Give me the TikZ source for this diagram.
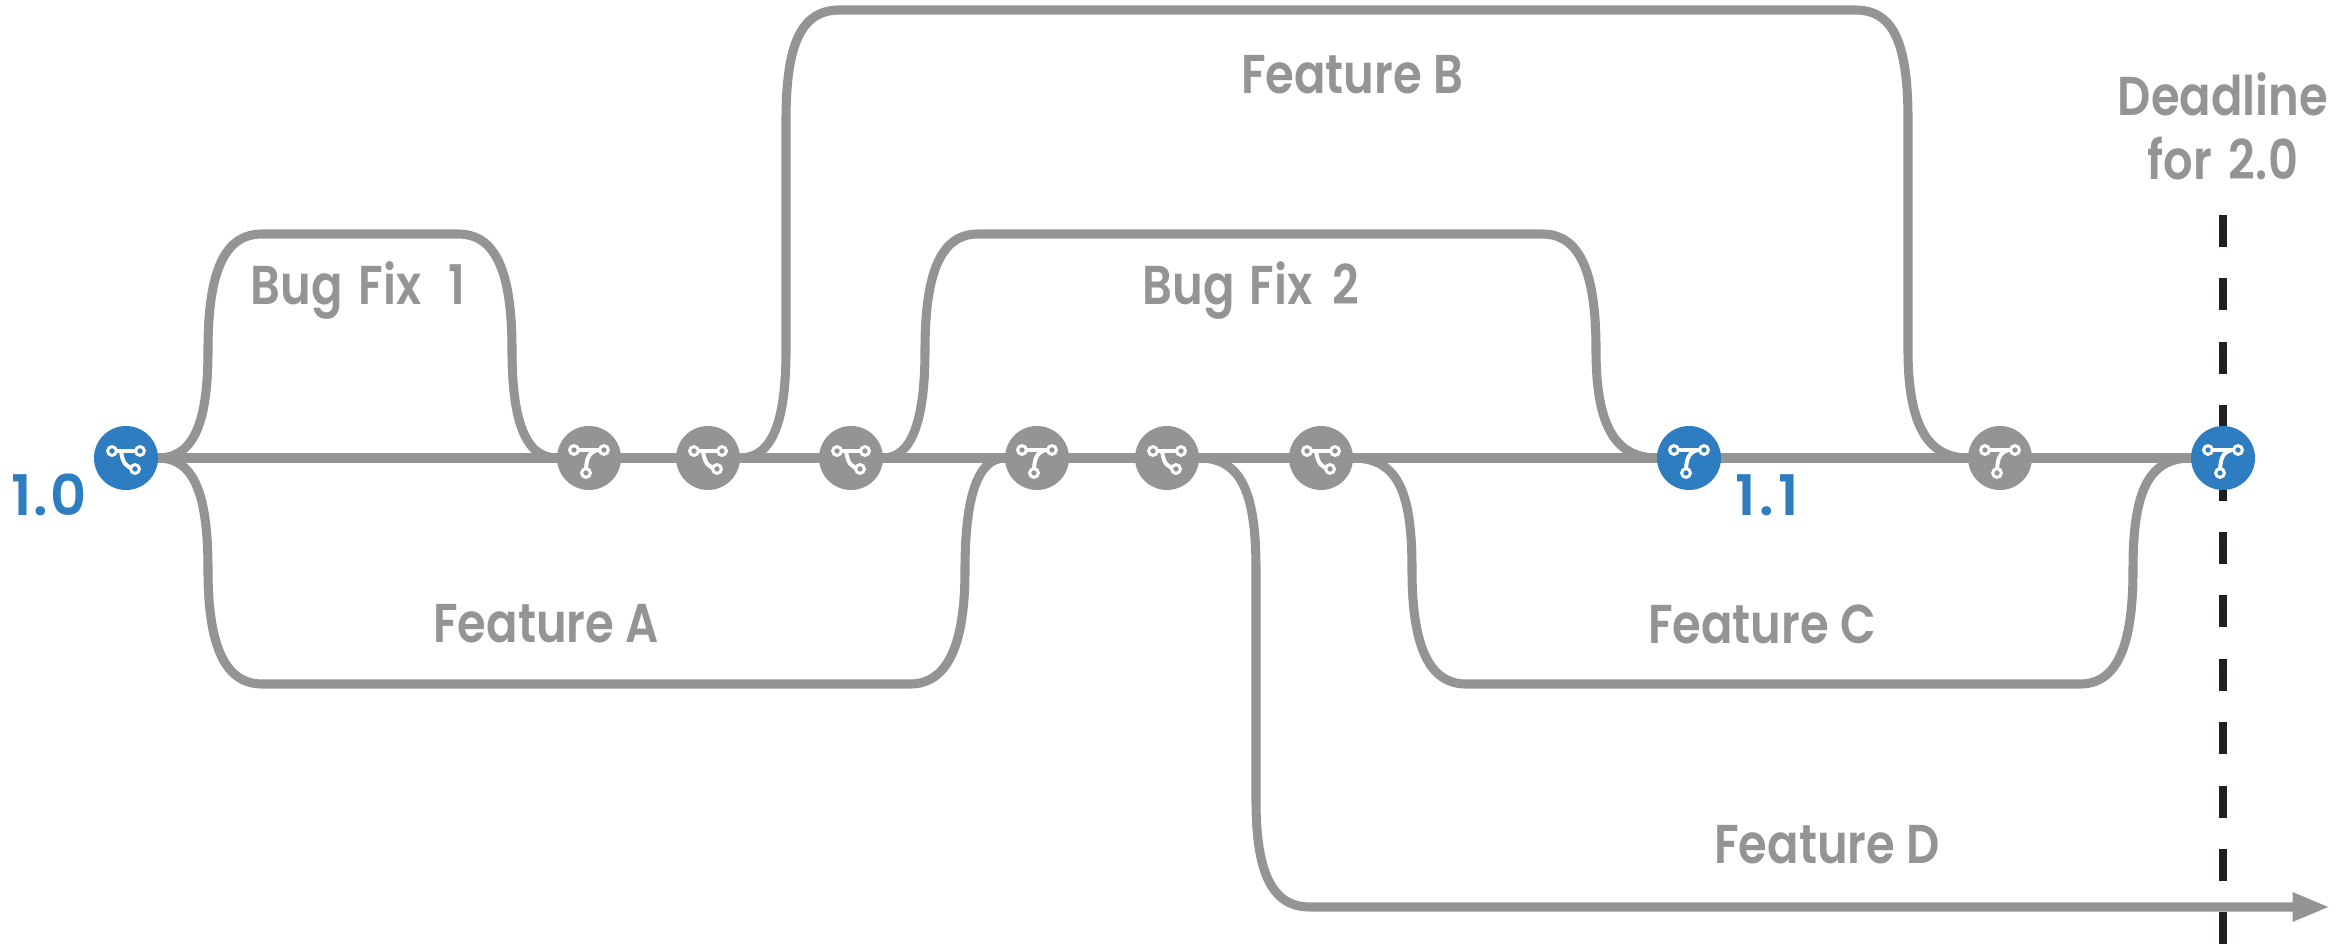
\documentclass[tikz,border=0pt]{standalone}
\usepackage{fontspec}
\setmainfont{Poppins}
\newfontfamily\labfont{Poppins SemiBold}[FakeStretch=0.85]
\newfontfamily\tagfont{Poppins SemiBold}
\usetikzlibrary{backgrounds,arrows.meta}
\definecolor{linegrey}{HTML}{949592}
\definecolor{tagblue}{HTML}{2E7DC1}
\definecolor{deadblack}{HTML}{231F20}
\tikzset{
  x=0.75pt,y=-0.75pt,
  ver/.style={circle,minimum size=48pt,inner sep=0pt,outer sep=0pt,fill=#1},
  branchline/.style={draw=linegrey,line width=6.8pt},
  lab/.style={text=linegrey,font=\fontsize{41}{48}\selectfont\labfont,inner sep=0pt,align=center},
  tag/.style={text=tagblue,font=\fontsize{42}{46}\selectfont\tagfont,inner sep=0pt},
  icoline/.style={draw=white,line width=3pt},
  icodot/.style={draw=white,line width=2.2pt,fill=#1},
  forkicon/.pic={
    \draw[icoline] (-14,-7) -- (14,-7);
    \draw[icoline] (-5,-7) .. controls (-3,6) and (0,9) .. (9,11);
    \draw[icodot=\icofill] (-14,-7) circle[radius=3.3pt];
    \draw[icodot=\icofill] (14,-7) circle[radius=3.3pt];
    \draw[icodot=\icofill] (9,11) circle[radius=3.3pt];
  },
  sevenicon/.pic={
    \draw[icoline] (-15,-8) -- (15,-8);
    \draw[icoline] (9,-8) .. controls (-1,-6) and (-3,2) .. (-3,15);
    \draw[icodot=\icofill] (-15,-8) circle[radius=3.3pt];
    \draw[icodot=\icofill] (15,-8) circle[radius=3.3pt];
    \draw[icodot=\icofill] (-3,15) circle[radius=3.3pt];
  },
}
\newcommand{\versionnode}[4]{%
  \node[ver=#2] (#1) at (#3,458) {};
  \def\icofill{#2}%
  \pic at (#3,458) {#4icon};
}
\begin{document}
\begin{tikzpicture}
\useasboundingbox (0,0) rectangle (2346,948);
\versionnode{va}{tagblue}{126}{fork}
\versionnode{vb}{linegrey}{589}{seven}
\versionnode{vc}{linegrey}{708}{fork}
\versionnode{vd}{linegrey}{851}{fork}
\versionnode{ve}{linegrey}{1037}{seven}
\versionnode{vf}{linegrey}{1167}{fork}
\versionnode{vg}{linegrey}{1321}{fork}
\versionnode{vh}{tagblue}{1689}{seven}
\versionnode{vi}{linegrey}{2000}{seven}
\versionnode{vj}{tagblue}{2223}{seven}
\coordinate (dltop) at (2223,215);
\coordinate (dlbot) at (2223,944);
\coordinate (dend) at (2330,907);
\node[lab] (lbug1) at (358,291) {Bug\hspace{4pt} Fix\hspace{12pt} 1};
\node[lab] (lfb) at (1352,75) {Feature B};
\node[lab] (ldl) at (2223,126) {Deadline\\for\hspace{4pt} 2.\kern1pt 0};
\node[lab] (lbug2) at (1251,291) {Bug\hspace{3pt} Fix\hspace{7pt} 2};
\node[lab] (lfa) at (546,624) {Feature A};
\node[lab] (lfc) at (1762,624) {Feature C};
\node[lab] (lfd) at (1827,845) {Feature D};
\node[tag] (t10) at (49,495) {1\kern1.5pt.\kern1.5pt0};
\node[tag] (t11) at (1767,495) {1\kern3pt.\kern3pt1};
\begin{scope}[on background layer]
  \fill[white] (0,0) rectangle (2346,948);
  \draw[deadblack,line width=6pt,dash pattern=on 24pt off 23.55pt] (dltop) -- (dlbot);
  \draw[branchline] (va.center) -- (vj.center);
  % Bug Fix 1
  \draw[branchline] (va.east) .. controls (195,458) and (208,420) .. (208,350)
    .. controls (208,270) and (225,234) .. (262,234) -- (458,234)
    .. controls (495,234) and (512,270) .. (512,350)
    .. controls (512,420) and (525,458) .. (vb.west);
  % Feature A
  \draw[branchline] (va.east) .. controls (195,458) and (208,496) .. (208,570)
    .. controls (208,646) and (225,684) .. (262,684) -- (910,684)
    .. controls (947,684) and (965,646) .. (965,570)
    .. controls (965,496) and (978,458) .. (ve.west);
  % Feature B
  \draw[branchline] (vc.east) .. controls (773,458) and (786,420) .. (786,350) -- (786,120)
    .. controls (786,40) and (803,10) .. (840,10) -- (1855,10)
    .. controls (1892,10) and (1908,40) .. (1908,120) -- (1908,350)
    .. controls (1908,420) and (1925,458) .. (vi.west);
  % Bug Fix 2
  \draw[branchline] (vd.east) .. controls (912,458) and (925,420) .. (925,350)
    .. controls (925,270) and (942,234) .. (978,234) -- (1542,234)
    .. controls (1579,234) and (1596,270) .. (1596,350)
    .. controls (1596,420) and (1612,458) .. (vh.west);
  % Feature C
  \draw[branchline] (vg.east) .. controls (1400,458) and (1412,496) .. (1412,570)
    .. controls (1412,646) and (1429,684) .. (1466,684) -- (2080,684)
    .. controls (2117,684) and (2133,646) .. (2133,570)
    .. controls (2133,496) and (2146,458) .. (vj.west);
  % Feature D
  \draw[branchline,-{Triangle[length=28pt,width=20pt]}] (vf.east) .. controls (1243,458) and (1256,496) .. (1256,570) -- (1256,800)
    .. controls (1256,875) and (1273,907) .. (1310,907) -- (dend);
\end{scope}
\end{tikzpicture}
\end{document}
